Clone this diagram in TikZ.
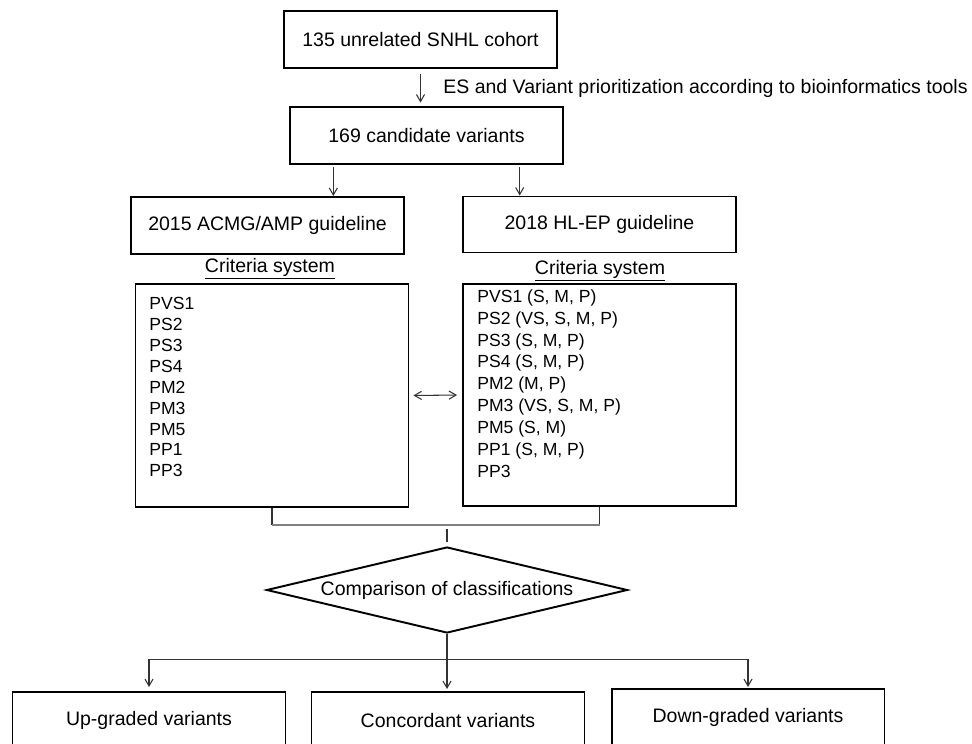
\documentclass[tikz,border=0pt]{standalone}
\usepackage{fontspec}
\setmainfont{Liberation Sans}
\usetikzlibrary{shapes.geometric, arrows.meta, positioning, calc}

\begin{document}
\begin{tikzpicture}[
    x=0.02cm, y=-0.02cm,
    box/.style={draw, line width=1.1pt, minimum width=5.46cm, minimum height=1.14cm, inner sep=0pt, align=center, font=\fontsize{11.1}{13}\selectfont},
    critbox/.style={draw, line width=1.1pt, minimum width=5.46cm, inner sep=0pt},
    crit/.style={anchor=north west, inner sep=0pt, align=left},
    title/.style={inner sep=0pt, font=\fontsize{11.1}{13}\selectfont},
    decision/.style={draw, diamond, aspect=4.2, line width=1.1pt, inner sep=0pt, minimum width=7.22cm, minimum height=1.72cm, font=\fontsize{11.1}{13}\selectfont},
    arr/.style={-{Straight Barb[length=4pt, width=4.6pt]}, line width=0.6pt, draw=black!80},
    biarr/.style={{Straight Barb[length=4pt, width=4.6pt]}-{Straight Barb[length=4pt, width=4.6pt]}, line width=0.6pt, draw=black!80},
    link/.style={line width=0.6pt, draw=black!80},
    bar/.style={line width=0.9pt, draw=black!50}
  ]
    \useasboundingbox (0,0) rectangle (972,743);

    %% ── cohort and candidates ──
    \node[box] (cohort) at (420.5, 39.5) {135 unrelated SNHL cohort};
    \node[box] (cand)   at (426.5, 135.5) {169 candidate variants};
    \node[title, anchor=west] (esnote) at (443, 88)
      {ES and Variant prioritization according to bioinformatics tools};

    %% ── the two guidelines ──
    \node[box] (acmg) at (267.5, 225.5) {2015 ACMG/AMP guideline};
    \node[box, minimum height=1.12cm] (hlep) at (599.5, 224.5) {2018 HL-EP guideline};

    %% ── criteria systems ──
    \node[title] (titleA) at (270, 269) {\underline{Criteria system}};
    \node[title] (titleB) at (600, 271) {\underline{Criteria system}};
    \node[critbox, minimum height=4.46cm] (critA) at (272, 395.5) {};
    \node[critbox, minimum height=4.44cm] (critB) at (599.5, 395) {};
    \node[crit, font=\fontsize{10}{11.9}\selectfont] (listA) at (149, 297)
      {PVS1\\PS2\\PS3\\PS4\\PM2\\PM3\\PM5\\PP1\\PP3};
    \node[crit, font=\fontsize{10}{12.5}\selectfont] (listB) at (477, 289)
      {PVS1 (S, M, P)\\PS2 (VS, S, M, P)\\PS3 (S, M, P)\\PS4 (S, M, P)\\PM2 (M, P)\\PM3 (VS, S, M, P)\\PM5 (S, M)\\PP1 (S, M, P)\\PP3};

    %% ── comparison ──
    \node[decision] (comp) at (447, 590) {Comparison of classifications};

    %% ── outcomes (cut off at the bottom edge) ──
    \node[box] (up)   at (149, 720.5) {Up-graded variants};
    \node[box] (conc) at (448, 720.5) {Concordant variants};
    \node[box] (down) at (748, 717.5) {Down-graded variants};

    %% ═══════ ARROWS ═══════

    %% 1. cohort -> candidates
    \draw[arr, shorten <=0.1cm, shorten >=0.07cm] (cohort.south) -- (cohort.south |- cand.north);

    %% 2. candidates -> both guidelines
    \coordinate (candA) at ($(cand.south west)!0.161!(cand.south east)$);
    \coordinate (candB) at ($(cand.south west)!0.839!(cand.south east)$);
    \draw[arr, shorten <=0.04cm] (candA) -- (candA |- acmg.north);
    \draw[arr, shorten <=0.04cm] (candB) -- (candB |- hlep.north);

    %% 3. criteria A <-> criteria B
    \draw[biarr, shorten <=0.08cm, shorten >=0.1cm] (critA.east) -- (critB.west);

    %% 4. bracket under both criteria boxes
    \draw[link] (critA.south) -- ++(0,17) coordinate (brA);
    \draw[link] (critB.south) -- (critB.south |- brA) coordinate (brB);
    \draw[bar] (brA) -- (brB);
    \draw[link, shorten <=0.08cm, shorten >=0.08cm] (comp.north |- brA) -- (comp.north);

    %% 5. comparison -> outcomes
    \draw[link] (comp.south) -- ++(0,26) coordinate (split);
    \draw[arr, shorten >=0.04cm] (comp.south) -- (comp.south |- conc.north);
    \draw[arr, shorten >=0.08cm] (split) -| (up.north);
    \draw[arr, shorten >=0.02cm] (split) -| (down.north);

  \end{tikzpicture}
\end{document}
